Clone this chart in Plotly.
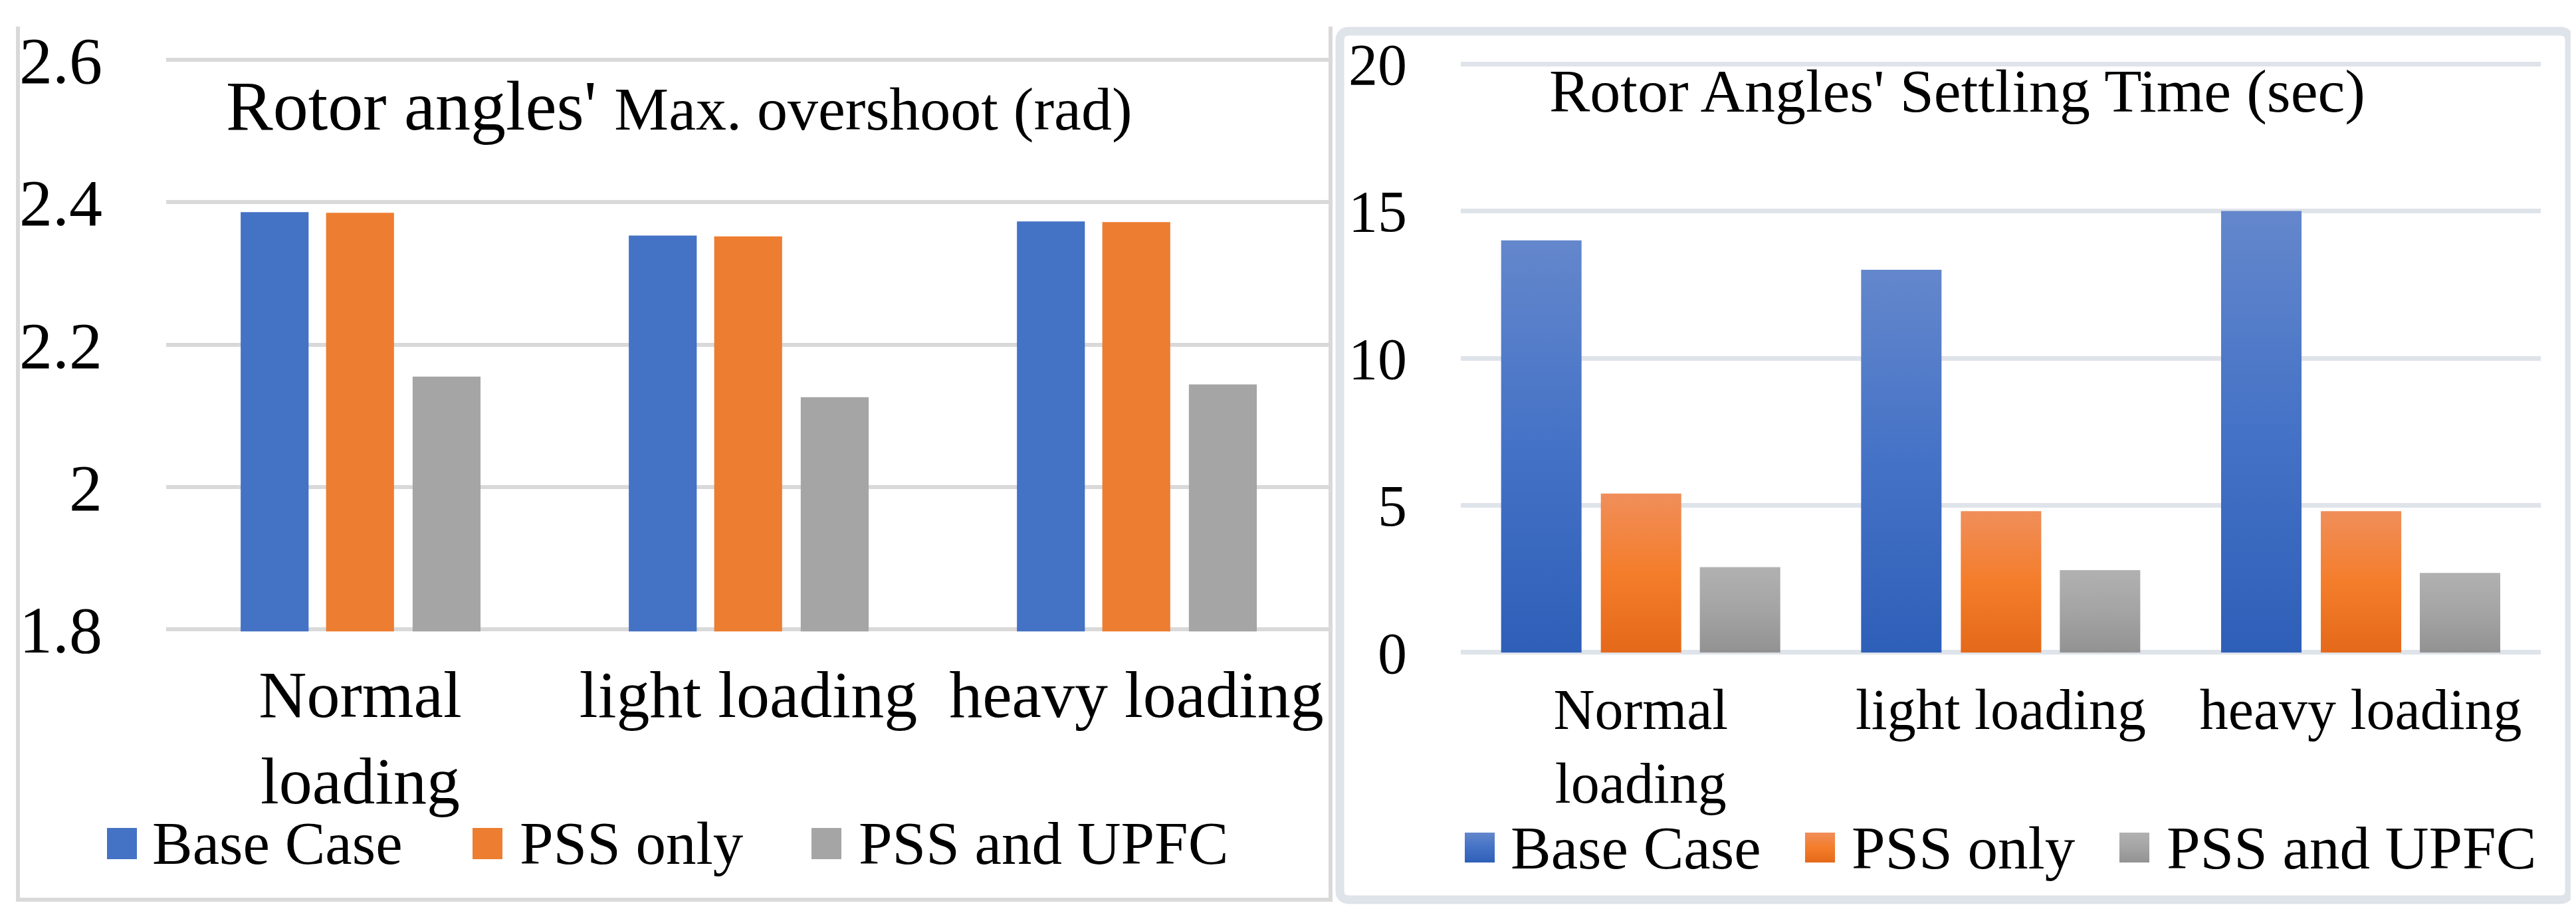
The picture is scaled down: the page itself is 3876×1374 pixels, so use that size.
import json
import plotly.graph_objects as go

# ---------------- data ----------------
categories = ["Normal<br>loading", "light loading", "heavy loading"]
series_names = ["Base Case", "PSS only", "PSS and UPFC"]

overshoot_base = [2.386, 2.353, 2.373]
overshoot_pss = [2.385, 2.352, 2.372]
overshoot_pss_upfc = [2.155, 2.126, 2.144]

settling_base = [14.0, 13.0, 15.0]
settling_pss = [5.4, 4.8, 4.8]
settling_pss_upfc = [2.9, 2.8, 2.7]

overshoot_tickvals = [1.8, 2.0, 2.2, 2.4, 2.6]
overshoot_ticktext = ["1.8", "2", "2.2", "2.4", "2.6"]
settling_tickvals = [0, 5, 10, 15, 20]
settling_ticktext = ["0", "5", "10", "15", "20"]

title_left_main = "Rotor angles' "
title_left_sub = "Max. overshoot (rad)"
title_right = "Rotor Angles' Settling Time (sec)"

# ---------------- styles ----------------
W, H = 3876, 1374
FONT = "Liberation Serif"
left_colors = ["#4472c4", "#ed7d31", "#a5a5a5"]
right_colors = ["#4674c6", "#f27c2a", "#a3a3a3"]
right_gradients = [["#6487cc", "#4472c6", "#2e5fb8"],
                   ["#f08e5a", "#f47d2b", "#e4691a"],
                   ["#b1b1b1", "#a4a4a4", "#929292"]]


def px(x):
    return x / W


def py(y):
    return 1 - y / H


fig = go.Figure()

left_series = [overshoot_base, overshoot_pss, overshoot_pss_upfc]
left_offsets = [-0.308, -0.088, 0.135]
for name, vals, col, off in zip(series_names, left_series, left_colors, left_offsets):
    fig.add_trace(go.Bar(x=categories, y=vals, name=name, xaxis="x", yaxis="y",
                         width=0.175, offset=off, marker=dict(color=col, line=dict(width=0)),
                         showlegend=False, hoverinfo="skip"))

right_series = [settling_base, settling_pss, settling_pss_upfc]
right_offsets = [-0.388, -0.111, 0.164]
for name, vals, col, off in zip(series_names, right_series, right_colors, right_offsets):
    fig.add_trace(go.Bar(x=categories, y=vals, name=name, xaxis="x2", yaxis="y2",
                         width=0.2234, offset=off, marker=dict(color=col, line=dict(width=0)),
                         showlegend=False, hoverinfo="skip"))

shapes = []
annotations = []

# panel borders
lcol = "#d9d9d9"
shapes.append(dict(type="line", xref="paper", yref="paper", x0=px(19), x1=px(19), y0=py(32), y1=py(1349),
                   line=dict(color=lcol, width=6), layer="below"))
shapes.append(dict(type="line", xref="paper", yref="paper", x0=px(16), x1=px(1997), y0=py(1346), y1=py(1346),
                   line=dict(color=lcol, width=6), layer="below"))
shapes.append(dict(type="line", xref="paper", yref="paper", x0=px(1994), x1=px(1994), y0=py(32), y1=py(1349),
                   line=dict(color=lcol, width=6), layer="below"))

# right panel: rounded rectangle border
rcol = "#dfe3ea"
bx0, bx1, by0, by1, rr = 2008, 3858, 39, 1346, 14
path = (f"M {px(bx0 + rr)},{py(by0)} L {px(bx1 - rr)},{py(by0)} Q {px(bx1)},{py(by0)} {px(bx1)},{py(by0 + rr)} "
        f"L {px(bx1)},{py(by1 - rr)} Q {px(bx1)},{py(by1)} {px(bx1 - rr)},{py(by1)} "
        f"L {px(bx0 + rr)},{py(by1)} Q {px(bx0)},{py(by1)} {px(bx0)},{py(by1 - rr)} "
        f"L {px(bx0)},{py(by0 + rr)} Q {px(bx0)},{py(by0)} {px(bx0 + rr)},{py(by0)} Z")
shapes.append(dict(type="path", xref="paper", yref="paper", path=path,
                   line=dict(color=rcol, width=13), layer="below"))

# legends
left_marker_x = [153, 703, 1213]
left_text_x = [219, 772, 1282]
for i, name in enumerate(series_names):
    shapes.append(dict(type="rect", xref="paper", yref="paper", x0=px(left_marker_x[i]),
                       x1=px(left_marker_x[i] + 45), y0=py(1285), y1=py(1238),
                       fillcolor=left_colors[i], line=dict(width=0)))
    annotations.append(dict(text=name, xref="paper", yref="paper", x=px(left_text_x[i]), y=py(1261),
                            xanchor="left", yanchor="middle", showarrow=False,
                            font=dict(family=FONT, size=91, color="black")))

right_marker_x = [2196, 2708, 3181]
right_text_x = [2263, 2776, 3250]
right_legend_shape_idx = []
for i, name in enumerate(series_names):
    right_legend_shape_idx.append(len(shapes))
    shapes.append(dict(type="rect", xref="paper", yref="paper", x0=px(right_marker_x[i]),
                       x1=px(right_marker_x[i] + 45), y0=py(1290), y1=py(1245),
                       fillcolor=right_colors[i], line=dict(width=0)))
    annotations.append(dict(text=name, xref="paper", yref="paper", x=px(right_text_x[i]), y=py(1268),
                            xanchor="left", yanchor="middle", showarrow=False,
                            font=dict(family=FONT, size=91, color="black")))

# titles
annotations.append(dict(text=title_left_main + "<span style='font-size:92px'>" + title_left_sub + "</span>",
                        xref="paper", yref="paper", x=px(330), y=py(152), xanchor="left", yanchor="middle",
                        showarrow=False, font=dict(family=FONT, size=106, color="black")))
annotations.append(dict(text=title_right, xref="paper", yref="paper", x=px(2321), y=py(129),
                        xanchor="left", yanchor="middle", showarrow=False,
                        font=dict(family=FONT, size=92, color="black")))

axis_common = dict(automargin=False, zeroline=False, showline=False, ticks="", fixedrange=True)

fig.update_layout(
    template="none",
    width=W, height=H, margin=dict(l=0, r=0, t=0, b=0, autoexpand=False),
    paper_bgcolor="white", plot_bgcolor="rgba(0,0,0,0)",
    barmode="group", showlegend=False,
    shapes=shapes, annotations=annotations,
    xaxis=dict(domain=[px(242), px(1994)], type="category", showgrid=False,
               tickfont=dict(family=FONT, size=100, color="black"),
               ticklabelstandoff=28, anchor="y", **axis_common),
    yaxis=dict(domain=[py(942.2), py(78.8)], range=[1.797, 2.603], tickvals=overshoot_tickvals,
               ticktext=overshoot_ticktext, showgrid=True, gridcolor=lcol, gridwidth=6,
               tickfont=dict(family=FONT, size=100, color="black"), ticklabelstandoff=95,
               anchor="x", **axis_common),
    xaxis2=dict(domain=[px(2190), px(3815)], type="category", showgrid=False,
                tickfont=dict(family=FONT, size=86, color="black"),
                ticklabelstandoff=24, anchor="y2", **axis_common),
    yaxis2=dict(domain=[py(977.5), py(84.5)], range=[-0.08, 20.08], tickvals=settling_tickvals,
                ticktext=settling_ticktext, showgrid=True, gridcolor=rcol, gridwidth=7,
                tickfont=dict(family=FONT, size=88, color="black"), ticklabelstandoff=80,
                anchor="x2", **axis_common),
)

post_js = """
var gd = document.getElementById('{plot_id}');
var ns = 'http://www.w3.org/2000/svg';
var svg = gd.querySelector('svg.main-svg');
var defs = svg.querySelector('defs');
var G = GRADS;
G.forEach(function(c, i){
  var lg = document.createElementNS(ns, 'linearGradient');
  lg.setAttribute('id', 'rgrad' + i);
  lg.setAttribute('x1', '0'); lg.setAttribute('y1', '0');
  lg.setAttribute('x2', '0'); lg.setAttribute('y2', '1');
  [[0, c[0]], [0.5, c[1]], [1, c[2]]].forEach(function(s){
    var st = document.createElementNS(ns, 'stop');
    st.setAttribute('offset', s[0]);
    st.setAttribute('stop-color', s[1]);
    lg.appendChild(st);
  });
  defs.appendChild(lg);
});
var traces = gd.querySelectorAll('.subplot.x2y2 .barlayer .trace');
traces.forEach(function(t, i){
  t.querySelectorAll('path').forEach(function(p){ p.style.fill = 'url(#rgrad' + i + ')'; });
});
var LIDX = LEGIDX;
LIDX.forEach(function(si, i){
  var p = gd.querySelector('.shapelayer path[data-index="' + si + '"]');
  if (p) { p.style.fill = 'url(#rgrad' + i + ')'; }
});
""".replace("GRADS", json.dumps(right_gradients)).replace("LEGIDX", json.dumps(right_legend_shape_idx))

fig.write_html("out.html", post_script=post_js, config={"displayModeBar": False})
